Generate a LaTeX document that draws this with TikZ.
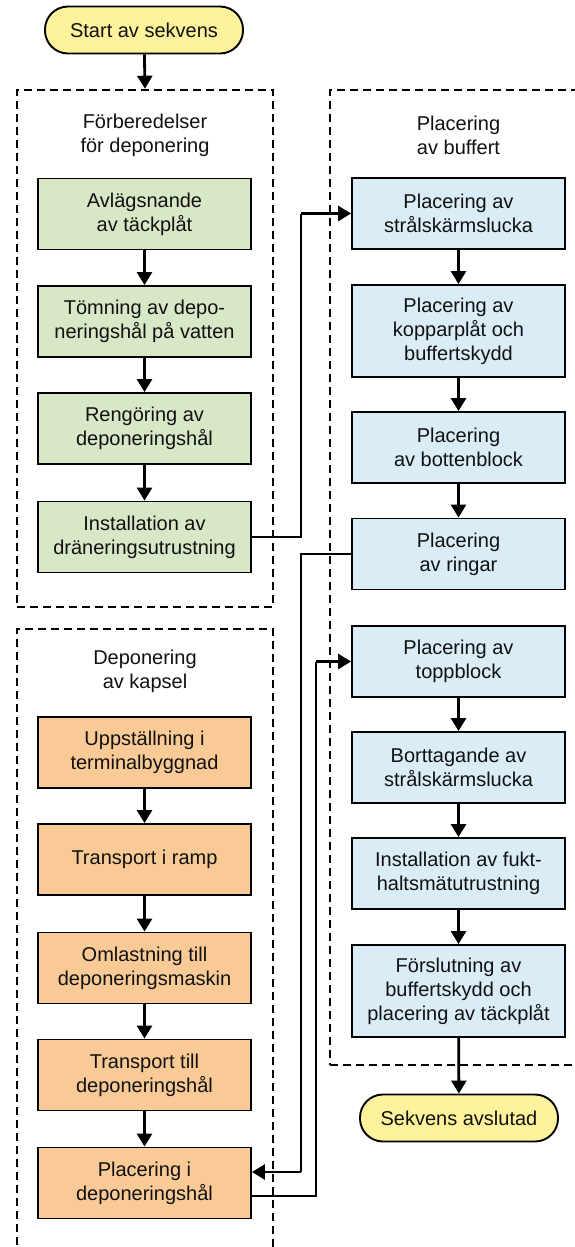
\documentclass[tikz,border=0pt]{standalone}
\usepackage{fontspec}
\setmainfont{Liberation Sans}
\usetikzlibrary{arrows.meta,calc}
\definecolor{skbGron}{HTML}{D8E7C6}
\definecolor{skbBla}{HTML}{DAEDF7}
\definecolor{skbOrange}{HTML}{F9CA95}
\definecolor{skbGul}{HTML}{FFF29C}
\definecolor{skbText}{HTML}{111111}

\begin{document}
\begin{tikzpicture}[x=1pt, y=-1pt, font=\fontsize{20}{24}\selectfont,
    every node/.style={align=center, text=skbText},
    steg/.style={draw=black, line width=1.9pt, minimum width=213pt, minimum height=71pt, inner sep=2pt},
    slut/.style={draw=black, line width=1.9pt, fill=skbGul, rounded corners=23pt, minimum width=198pt, minimum height=47pt},
    grupp/.style={draw=black, line width=2.6pt, dash pattern=on 8pt off 5pt, inner sep=0pt},
    pil/.style={line width=2.8pt, -{Triangle[length=13pt,width=15pt]}},
    ledning/.style={line width=1.2pt}]
    \useasboundingbox (0,0) rectangle (574,1247);

    % grupper
    \node[grupp, minimum width=256pt, minimum height=517pt] (forb) at (145,348.5) {};
    \node[grupp, minimum width=300pt, minimum height=975pt] (buff) at (480,577.5) {};
    \node[grupp, minimum width=256pt, minimum height=700pt] (depo) at (145,979) {};
    \node (forbtxt) at (145,135) {Förberedelser\\för deponering};
    \node (bufftxt) at (458.5,135) {Placering\\av buffert};
    \node (depotxt) at (145,671) {Deponering\\av kapsel};

    \node[slut] (start) at (144,30) {Start av sekvens};
    \node[slut] (klar) at (459,1118) {Sekvens avslutad};

    % förberedelser
    \node[steg, fill=skbGron] (g1) at (144.5,214) {Avlägsnande\\av täckplåt};
    \node[steg, fill=skbGron] (g2) at (144.5,321.5) {Tömning av depo-\\neringshål på vatten};
    \node[steg, fill=skbGron] (g3) at (144.5,428.5) {Rengöring av\\deponeringshål};
    \node[steg, fill=skbGron] (g4) at (144.5,537) {Installation av\\dräneringsutrustning};

    % buffert
    \node[steg, fill=skbBla] (b1) at (458.5,213.5) {Placering av\\strålskärmslucka};
    \node[steg, fill=skbBla, minimum height=92pt] (b2) at (458.5,331) {Placering av\\kopparplåt och\\buffertskydd};
    \node[steg, fill=skbBla] (b3) at (458.5,447.5) {Placering\\av bottenblock};
    \node[steg, fill=skbBla] (b4) at (458.5,554) {Placering\\av ringar};
    \node[steg, fill=skbBla] (b5) at (458.5,661.5) {Placering av\\toppblock};
    \node[steg, fill=skbBla] (b6) at (458.5,767.5) {Borttagande av\\strålskärmslucka};
    \node[steg, fill=skbBla] (b7) at (458.5,873.5) {Installation av fukt-\\haltsmätutrustning};
    \node[steg, fill=skbBla, minimum height=92pt] (b8) at (458.5,991) {Förslutning av\\buffertskydd och\\placering av täckplåt};

    % kapsel
    \node[steg, fill=skbOrange] (o1) at (144.5,752.5) {Uppställning i\\terminalbyggnad};
    \node[steg, fill=skbOrange] (o2) at (144.5,859.5) {Transport i ramp};
    \node[steg, fill=skbOrange] (o3) at (144.5,968) {Omlastning till\\deponeringsmaskin};
    \node[steg, fill=skbOrange] (o4) at (144.5,1075) {Transport till\\deponeringshål};
    \node[steg, fill=skbOrange] (o5) at (144.5,1183) {Placering i\\deponeringshål};

    \draw[pil] (start) -- (forb.north);
    \foreach \a/\b in {g1/g2, g2/g3, g3/g4, b1/b2, b2/b3, b3/b4, b5/b6, b6/b7, b7/b8,
                       o1/o2, o2/o3, o3/o4, o4/o5}
      \draw[pil] (\a) -- (\b);
    \draw[pil] (b8) -- (klar);

    % korsande ledningar
    \coordinate (k1) at (301,213.5);
    \coordinate (k2) at (301,1172);
    \coordinate (k3) at (316,661.5);
    \draw[ledning] (g4.east) -| (k1);
    \draw[pil] (k1) -- (b1.west);
    \draw[ledning] (b4.west) -| (k2);
    \draw[pil] (k2) -- (k2 -| o5.east);
    \draw[ledning] ($(o5.east)+(0,13)$) -| (k3);
    \draw[pil] (k3) -- (b5.west);
\end{tikzpicture}
\end{document}
